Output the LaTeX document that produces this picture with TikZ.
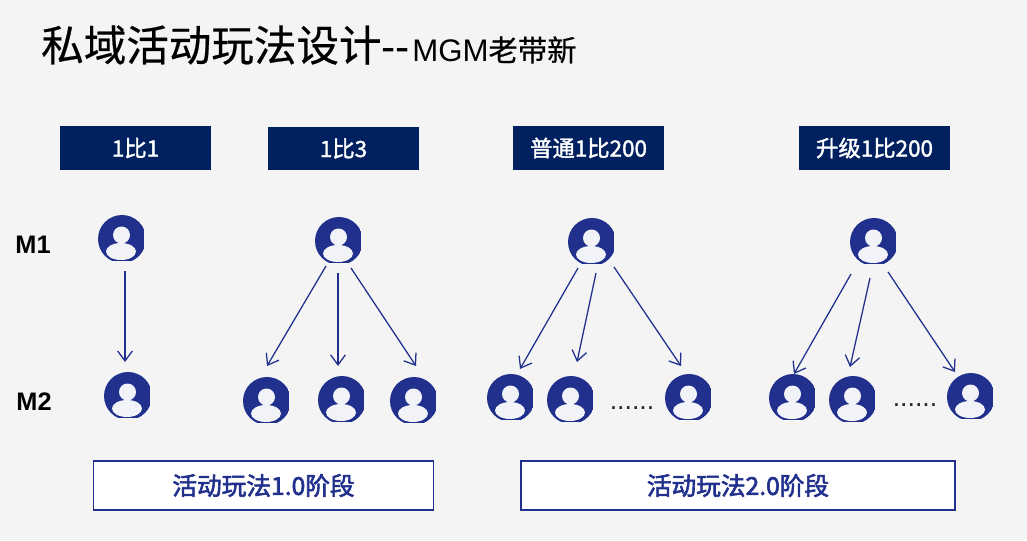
\documentclass[tikz,border=0pt]{standalone}
\usepackage{fontspec}
\setmainfont{Liberation Sans}
\newfontfamily\cjkhead{Noto Sans CJK SC}[FakeBold=1.6]
\newfontfamily\cjkstage{Noto Sans CJK SC}[FakeBold=2.4]
\newfontfamily\cjktitle{Noto Sans CJK SC}[FakeBold=0.5]
\newfontfamily\latintitle{Liberation Sans}
\usetikzlibrary{calc,arrows.meta}
\definecolor{bgc}{HTML}{F4F4F4}
\definecolor{navy}{HTML}{002060}
\definecolor{iconblue}{HTML}{20308C}
\tikzset{
  x=0.75pt,y=-0.75pt,
  header/.style={fill=navy,text=white,anchor=center,inner sep=0pt,minimum width=113pt,minimum height=32.6pt,font=\cjkhead\fontsize{16.8pt}{18pt}\selectfont},
  stagebox/.style={fill=white,draw=iconblue,line width=1.4pt,text=iconblue,inner sep=0pt,minimum height=36.5pt,font=\cjkstage\fontsize{18.5pt}{20pt}\selectfont},
  usericon/.style={circle,inner sep=0pt,minimum size=36pt,outer sep=0pt,
    path picture={
      \coordinate (pc) at (path picture bounding box.center);
      \fill[iconblue] ($(pc)+(-30,-30)$) rectangle ($(pc)+(21.8,22.2)$);
      \fill[white!94!iconblue] ($(pc)+(-0.5,-4)$) circle[radius=8.5];
      \fill[white!94!iconblue] ($(pc)+(-1,12.5)$) ellipse[x radius=15,y radius=8.5];
    }},
  arr/.style={draw=iconblue,line width=0.95pt,-{Straight Barb[length=7.5pt,width=11pt,line width=0.95pt]}},
  rowlab/.style={font=\bfseries\fontsize{19pt}{20pt}\selectfont,text=black,inner sep=0pt},
  dotslab/.style={font=\fontsize{20pt}{20pt}\selectfont,text=black!85,inner sep=0pt}
}
\begin{document}
\begin{tikzpicture}
\useasboundingbox (0,0) rectangle (1027,540);
\fill[bgc] (0,0) rectangle (1027,540);
\node[anchor=west,inner sep=0pt] (title) at (41,45) {\cjktitle\fontsize{31.9pt}{34pt}\selectfont 私域活动玩法设计\latintitle {-}{-}\kern1.8pt\fontsize{23.4pt}{24pt}\selectfont MGM\cjktitle\fontsize{22pt}{24pt}\selectfont 老带新};
\node[header] (h1) at (135.5,148) {1比1};
\node[header] (h2) at (343.5,148.5) {1比3};
\node[header] (h3) at (588.5,148) {普通1比200};
\node[header] (h4) at (874.5,148) {升级1比200};
\node[rowlab] (m1lab) at (33,245) {M1};
\node[rowlab] (m2lab) at (34,402) {M2};
\node[usericon] (a) at (122,239) {};
\node[usericon] (b) at (339,241) {};
\node[usericon] (c) at (592,242) {};
\node[usericon] (d) at (874,242) {};
\node[usericon] (a1) at (128,396) {};
\node[usericon] (b1) at (267,401) {};
\node[usericon] (b2) at (342,400) {};
\node[usericon] (b3) at (414,401) {};
\node[usericon] (c1) at (511,398) {};
\node[usericon] (c2) at (571,400) {};
\node[usericon] (c3) at (689,398) {};
\node[usericon] (d1) at (793,398) {};
\node[usericon] (d2) at (853,400) {};
\node[usericon] (d3) at (971,397) {};
\node[dotslab] (dots1) at (632,408) {......};
\node[dotslab] (dots2) at (915,405) {......};
\draw[arr] ($(a)+(3,32)$) -- ($(a1)+(-3,-34)$);
\draw[arr] ($(b)+(-13,25)$) -- ($(b1)+(0,-35)$);
\draw[arr] ($(b)+(-1,32)$) -- ($(b2)+(-4,-34)$);
\draw[arr] ($(b)+(12,27)$) -- ($(b3)+(2,-35)$);
\draw[arr] ($(c)+(-14,26)$) -- ($(c1)+(9,-29)$);
\draw[arr] ($(c)+(4,31)$) -- ($(c2)+(6,-38)$);
\draw[arr] ($(c)+(22,25)$) -- ($(c3)+(-8,-32)$);
\draw[arr] ($(d)+(-23,32)$) -- ($(d1)+(1,-24)$);
\draw[arr] ($(d)+(-4,36)$) -- ($(d2)+(-3,-33)$);
\draw[arr] ($(d)+(14,30)$) -- ($(d3)+(-16,-25)$);
\node[stagebox,minimum width=255pt] (s1) at (263.5,485.5) {\raisebox{1pt}{活动玩法1.0阶段}};
\node[stagebox,minimum width=325pt] (s2) at (738,485.5) {\raisebox{1pt}{活动玩法2.0阶段}};
\end{tikzpicture}
\end{document}
